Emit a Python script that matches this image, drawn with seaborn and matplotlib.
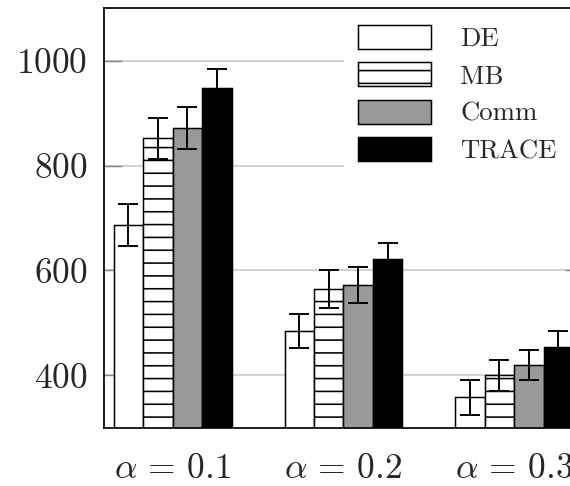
import pandas as pd
import matplotlib.pyplot as plt
import seaborn as sns
from matplotlib.patches import Patch

# values
groups = [r"$\alpha\,=\,0.1$", r"$\alpha\,=\,0.2$", r"$\alpha\,=\,0.3$"]
methods = ["DE", "MB", "Comm", "TRACE"]
de_mean = [686, 484, 358]
mb_mean = [852, 564, 400]
comm_mean = [871, 572, 419]
trace_mean = [947, 622, 454]
de_err = [40, 32, 33]
mb_err = [39, 36, 30]
comm_err = [40, 34, 29]
trace_err = [38, 30, 30]

FILLS = {"DE": "white", "MB": "white", "Comm": "#999999", "TRACE": "black"}
HATCH = {"MB": "-"}

sns.set_style("white")
plt.rcParams["font.family"] = ["cmr10", "DejaVu Serif"]
plt.rcParams["mathtext.fontset"] = "cm"
plt.rcParams["axes.formatter.use_mathtext"] = True
plt.rcParams["hatch.linewidth"] = 1.5
plt.rcParams["hatch.color"] = "black"

means = [de_mean, mb_mean, comm_mean, trace_mean]
errs = [de_err, mb_err, comm_err, trace_err]
df = pd.DataFrame({
    "alpha": [g for _ in methods for g in groups],
    "method": [m for m in methods for _ in groups],
    "value": [v for row in means for v in row],
    "err": [e for row in errs for e in row],
})

DPI = 77
fig = plt.figure(figsize=(570 / DPI, 486 / DPI), dpi=DPI)
ax = fig.add_axes([0.183, 0.120, 0.839, 0.863])

sns.barplot(data=df, x="alpha", y="value", hue="method", hue_order=methods,
            palette=FILLS, width=0.69, errorbar=None, edgecolor="black",
            linewidth=1.4, saturation=1, legend=False, ax=ax)

# hatch + error bars, bars come out grouped by hue level
bars = list(ax.patches)
for i, m in enumerate(methods):
    sub = df[df["method"] == m]
    for p, (_, row) in zip(bars[i * len(groups):(i + 1) * len(groups)], sub.iterrows()):
        if m in HATCH:
            p.set_hatch(HATCH[m])
        xc = p.get_x() + p.get_width() / 2
        ax.errorbar(xc, row["value"], yerr=row["err"], color="black",
                    elinewidth=1.8, capsize=9.3, capthick=1.8, zorder=5)

ax.set_xlim(-0.4, 2.4)
ax.set_ylim(300, 1100)
ax.set_yticks([400, 600, 800, 1000])
ax.set_xlabel("")
ax.set_ylabel("")
ax.set_axisbelow(True)
ax.yaxis.grid(True, color="#c8c8c8", linewidth=1.5)
ax.xaxis.grid(False)
for s in ax.spines.values():
    s.set_color("black")
    s.set_linewidth(1.6)
ax.tick_params(axis="y", direction="in", length=17, width=1.4, color="#8a8a8a",
               left=True, right=True, labelsize=33, pad=16)
ax.tick_params(axis="x", length=0, labelsize=33, pad=24)

handles = [Patch(facecolor=FILLS[m], edgecolor="black", linewidth=1.4,
                 hatch=HATCH.get(m)) for m in methods]
leg = fig.legend(handles, methods, loc="upper left", bbox_to_anchor=(0.604, 0.976),
                 bbox_transform=fig.transFigure, fontsize=25, frameon=True,
                 fancybox=False, framealpha=1, edgecolor="white", borderpad=0.5,
                 borderaxespad=0, handlelength=2.73, handleheight=1.0,
                 handletextpad=1.1, labelspacing=0.42)

fig.savefig("out.png", dpi=DPI)
